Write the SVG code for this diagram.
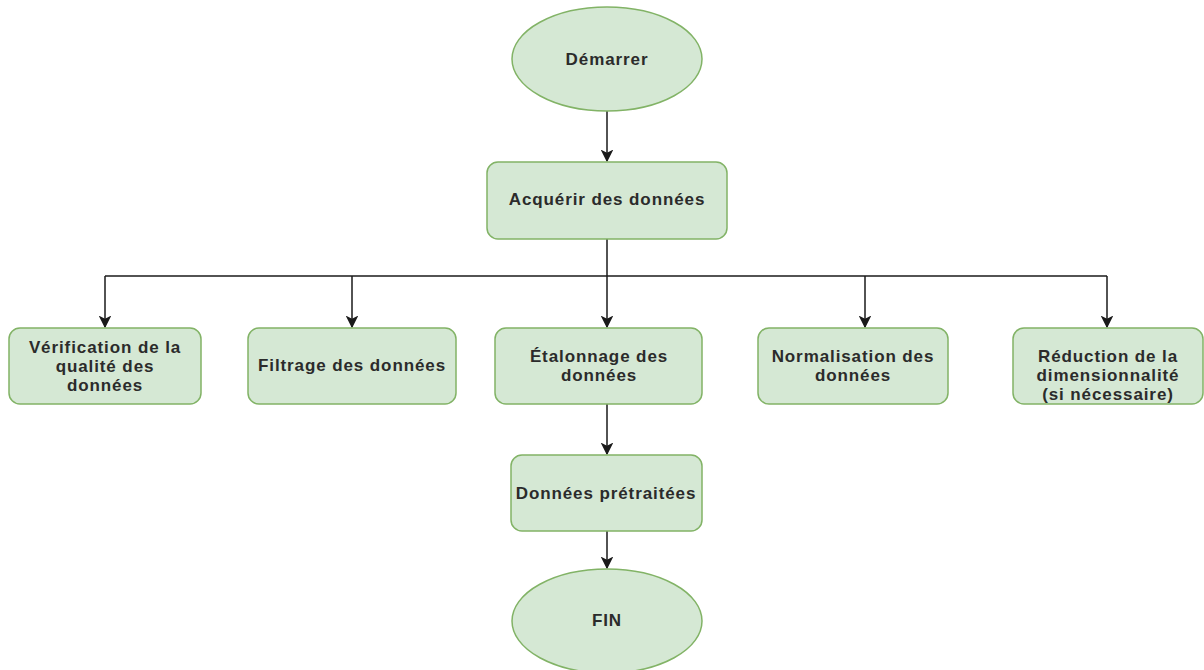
<svg xmlns="http://www.w3.org/2000/svg" width="1204" height="670" viewBox="0 0 1204 670">
  <style>
    .shape { fill: #d5e8d4; stroke: #82b366; stroke-width: 1.5; }
    .label { font-family: "Liberation Sans", Arial, sans-serif; font-size: 17px; letter-spacing: 0.9px; font-weight: bold; fill: #2b2b2b; text-anchor: middle; dominant-baseline: central; }
    .edge { fill: none; stroke: #1a1a1a; stroke-width: 1.5; }
  </style>
  <defs>
    <marker id="arrow" viewBox="0 0 10 10" refX="9" refY="5" markerWidth="8.5" markerHeight="8.5" markerUnits="strokeWidth" orient="auto">
      <path d="M0,0 L10,5 L0,10 L2.5,5 Z" fill="#1a1a1a"/>
    </marker>
  </defs>
  <rect width="1204" height="670" fill="#ffffff"/>

  <g id="connectors">
    <path class="edge" d="M607,111 L607,161" marker-end="url(#arrow)"/>
    <path class="edge" d="M607,239 L607,327" marker-end="url(#arrow)"/>
    <path class="edge" d="M105,276 L1107,276"/>
    <path class="edge" d="M105,276 L105,327" marker-end="url(#arrow)"/>
    <path class="edge" d="M352,276 L352,327" marker-end="url(#arrow)"/>
    <path class="edge" d="M865,276 L865,327" marker-end="url(#arrow)"/>
    <path class="edge" d="M1107,276 L1107,327" marker-end="url(#arrow)"/>
    <path class="edge" d="M607,404 L607,454" marker-end="url(#arrow)"/>
    <path class="edge" d="M607,531 L607,568" marker-end="url(#arrow)"/>
  </g>

  <g id="start">
    <ellipse class="shape" cx="607" cy="59" rx="95" ry="52"/>
    <text class="label" x="607" y="59">Démarrer</text>
  </g>

  <g id="acquire">
    <rect class="shape" x="487" y="162" width="240" height="77" rx="11"/>
    <text class="label" x="607" y="199">Acquérir des données</text>
  </g>

  <g id="quality">
    <rect class="shape" x="9" y="328" width="192" height="76" rx="11"/>
    <text class="label" x="105" y="347">Vérification de la</text>
    <text class="label" x="105" y="366">qualité des</text>
    <text class="label" x="105" y="385">données</text>
  </g>

  <g id="filtering">
    <rect class="shape" x="248" y="328" width="208" height="76" rx="11"/>
    <text class="label" x="352" y="365">Filtrage des données</text>
  </g>

  <g id="calibration">
    <rect class="shape" x="495" y="328" width="207" height="76" rx="11"/>
    <text class="label" x="599" y="356">Étalonnage des</text>
    <text class="label" x="599" y="375">données</text>
  </g>

  <g id="normalisation">
    <rect class="shape" x="758" y="328" width="190" height="76" rx="11"/>
    <text class="label" x="853" y="356">Normalisation des</text>
    <text class="label" x="853" y="375">données</text>
  </g>

  <g id="reduction">
    <rect class="shape" x="1013" y="328" width="190" height="76" rx="11"/>
    <text class="label" x="1108" y="356">Réduction de la</text>
    <text class="label" x="1108" y="375">dimensionnalité</text>
    <text class="label" x="1108" y="394">(si nécessaire)</text>
  </g>

  <g id="preprocessed">
    <rect class="shape" x="511" y="455" width="191" height="76" rx="11"/>
    <text class="label" x="606" y="493">Données prétraitées</text>
  </g>

  <g id="end">
    <ellipse class="shape" cx="607" cy="621" rx="95" ry="52"/>
    <text class="label" x="607" y="620">FIN</text>
  </g>
</svg>
